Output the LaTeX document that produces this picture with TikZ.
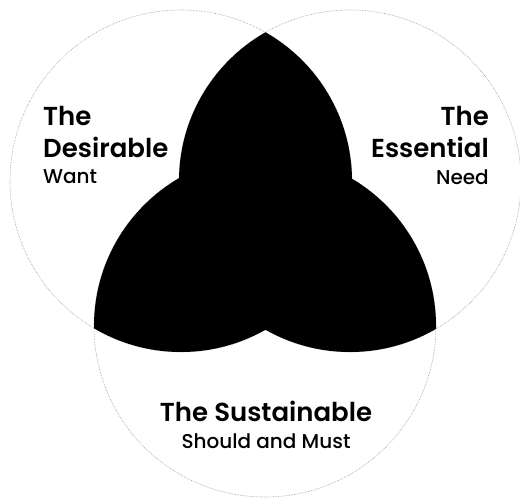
\documentclass[tikz,border=0pt]{standalone}
\usepackage{fontspec}
\setmainfont{Poppins}[BoldFont=Poppins SemiBold]
\newfontfamily\venmedium{Poppins Medium}
\usetikzlibrary{positioning}
\definecolor{vennring}{RGB}{150,150,150}
\definecolor{vennink}{RGB}{0,0,0}

\tikzset{
  ring/.style={draw=vennring,line width=0.6pt,densely dotted},
  headlabel/.style={inner sep=0pt,font=\bfseries\fontsize{26}{32}\selectfont},
  sublabel/.style={inner sep=0pt,font=\venmedium\fontsize{20}{24}\selectfont}
}

\begin{document}
\begin{tikzpicture}[x=1pt,y=-1pt]
\useasboundingbox (0,0) rectangle (520,499);
\coordinate (want) at (181,181);
\coordinate (need) at (350,181);
\coordinate (must) at (265,326);

% the three rings
\foreach \c in {want,need,must}
  \draw[ring] (\c) circle[radius=171pt];

% pairwise overlaps
\begin{scope}
\clip (want) circle[radius=171pt];
\fill[vennink] (need) circle[radius=171pt];
\fill[vennink] (must) circle[radius=171pt];
\end{scope}
\begin{scope}
\clip (need) circle[radius=171pt];
\fill[vennink] (must) circle[radius=171pt];
\end{scope}

% labels
\node[headlabel,align=left,anchor=north west] (desirable) at (43,106) {The\\Desirable};
\node[sublabel,below right=12pt and 0pt of desirable.south west] (wantlbl) {Want};

\node[headlabel,align=right,anchor=north east] (essential) at (489,106) {The\\Essential};
\node[sublabel,below left=12pt and 0pt of essential.south east] (needlbl) {Need};

\node[headlabel,anchor=north] (sustainable) at (266,401) {The Sustainable};
\node[sublabel,below=11pt of sustainable.south] (mustlbl) {Should and Must};
\end{tikzpicture}
\end{document}
